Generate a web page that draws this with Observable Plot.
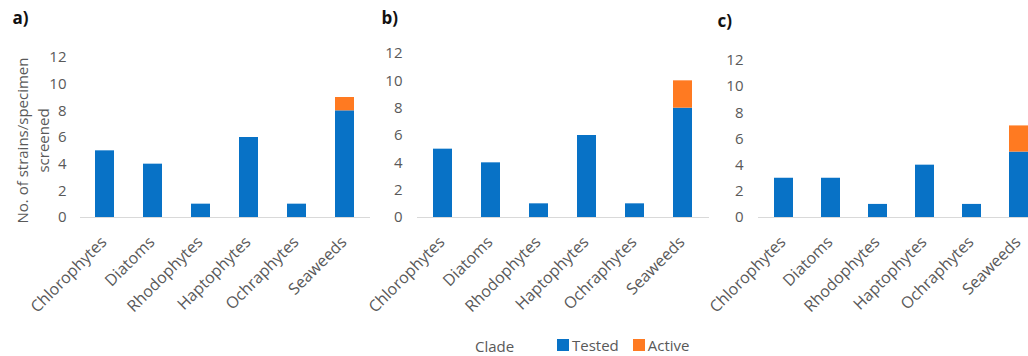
<!DOCTYPE html>
<html>
<head>
<meta charset="utf-8">
<script src="https://cdn.jsdelivr.net/npm/d3@7"></script>
<script src="https://cdn.jsdelivr.net/npm/@observablehq/plot@0.6"></script>
<style>
  html, body { margin: 0; padding: 0; background: #fff; }
  #fig { position: relative; width: 1028px; height: 356px; overflow: hidden; font-family: "Open Sans", sans-serif; }
  .panel { position: absolute; top: 0; }
  .panel svg { max-width: none !important; }
  #clade { position: absolute; left: 475px; top: 336px; font-size: 15px; color: #595959; line-height: 20px; }
  #legend { position: absolute; left: 557px; top: 328px; }
  .lg-swatches { font-size: 15px !important; font-family: "Open Sans", sans-serif !important; color: #595959 !important; margin: 0 !important; }
  .lg-swatch { margin-right: 14px !important; }
  .lg-swatch > svg { margin-right: 3px !important; }
</style>
</head>
<body>
<div id="fig">
  <div id="clade">Clade</div>
  <div id="legend"></div>
</div>
<script>
// Clades on the x axis
const clades = ["Chlorophytes", "Diatoms", "Rhodophytes", "Haptophytes", "Ochraphytes", "Seaweeds"];
const series = ["Tested", "Active"];
const colors = ["#0872C6", "#FF7A21"];
const yTicks = [0, 2, 4, 6, 8, 10, 12];
const panelLabels = ["a)", "b)", "c)"];
const yTitle = "No. of strains/specimen\nscreened";

// Number of strains/specimens per clade, for each panel
const testedA = [5, 4, 1, 6, 1, 8];
const activeA = [0, 0, 0, 0, 0, 1];
const testedB = [5, 4, 1, 6, 1, 8];
const activeB = [0, 0, 0, 0, 0, 2];
const testedC = [3, 3, 1, 4, 1, 5];
const activeC = [0, 0, 0, 0, 0, 2];

function rows(tested, active) {
  const out = [];
  clades.forEach((c, i) => out.push({clade: c, series: "Tested", value: tested[i]}));
  clades.forEach((c, i) => out.push({clade: c, series: "Active", value: active[i]}));
  return out.filter(d => d.value > 0);
}

const font = '"Open Sans", sans-serif';
const grey = "#595959";

function panel({data, label, left, width, marginLeft, marginRight, marginTop, tickPad, labelDx, labelDy, withTitle}) {
  const marks = [
    Plot.ruleY([0], {stroke: "#d9d9d9", strokeWidth: 1}),
    Plot.barY(data, {x: "clade", y: "value", fill: "series"}),
    Plot.axisY({ticks: yTicks, tickSize: 0, tickPadding: tickPad, fontSize: 15, fill: grey}),
    Plot.axisX({tickSize: 0, tickRotate: -45, tickPadding: 22, dx: -1, fontSize: 16, fill: grey}),
    Plot.text([label], {frameAnchor: "top-left", dx: labelDx, dy: labelDy, fontSize: 17, fontWeight: "bold", fill: "#111", textAnchor: "start", lineAnchor: "top"})
  ];
  if (withTitle) {
    marks.push(Plot.text([yTitle], {frameAnchor: "left", dx: -49, dy: 3, rotate: -90, fontSize: 15, fill: grey, lineHeight: 1.4, textAnchor: "middle", lineAnchor: "middle"}));
  }
  const chart = Plot.plot({
    width, height: 356,
    marginLeft, marginRight, marginTop, marginBottom: 139,
    style: {background: "transparent", fontFamily: font, overflow: "visible"},
    x: {domain: clades, paddingInner: 0.6, paddingOuter: 0.3, label: null, axis: null},
    y: {domain: [0, 12], label: null, axis: null},
    color: {domain: series, range: colors},
    marks
  });
  const wrap = document.createElement("div");
  wrap.className = "panel";
  wrap.style.left = left + "px";
  wrap.style.width = width + "px";
  wrap.appendChild(chart);
  document.getElementById("fig").appendChild(wrap);
}

panel({data: rows(testedA, activeA), label: panelLabels[0], left: 0, width: 390, marginLeft: 80, marginRight: 20, marginTop: 57, tickPad: 14, labelDx: -68, labelDy: -46, withTitle: true});
panel({data: rows(testedB, activeB), label: panelLabels[1], left: 340, width: 379, marginLeft: 77, marginRight: 10, marginTop: 53, tickPad: 15, labelDx: -36, labelDy: -42, withTitle: false});
panel({data: rows(testedC, activeC), label: panelLabels[2], left: 690, width: 364, marginLeft: 68, marginRight: 10, marginTop: 60, tickPad: 15, labelDx: -41, labelDy: -46, withTitle: false});

const legend = Plot.legend({
  color: {domain: series, range: colors},
  swatchSize: 12,
  className: "lg"
});
document.getElementById("legend").appendChild(legend);
</script>
</body>
</html>
